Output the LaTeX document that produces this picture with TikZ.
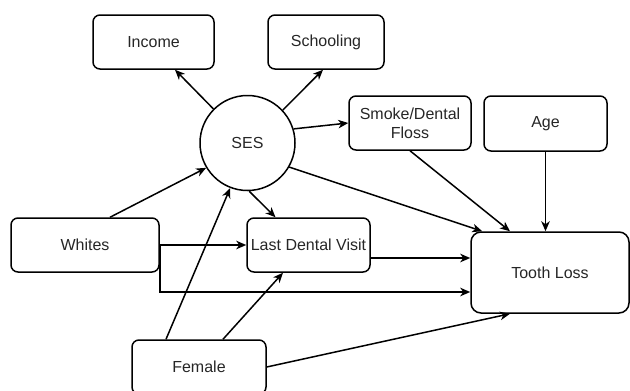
\documentclass[tikz,border=0pt]{standalone}
\usepackage{fontspec}
\setmainfont{Liberation Sans}
\usetikzlibrary{arrows.meta,calc}
\begin{document}
\begin{tikzpicture}[x=1pt,y=-1pt,
  every node/.style={font=\fontsize{16}{19}\selectfont, text=black!85},
  rbox/.style={draw, line width=1.5pt, rounded corners=7pt, align=center, inner sep=0pt},
  arr/.style={-{Stealth[length=10pt,width=8.5pt,inset=3pt]}, line width=1.5pt}]
\useasboundingbox (0,0) rectangle (630,391);
\node[rbox, minimum width=121pt, minimum height=54pt] (Income) at (153.5,42) {Income};
\node[rbox, minimum width=116pt, minimum height=54pt] (School) at (326,42) {Schooling};
\node[draw, circle, line width=1.5pt, minimum size=95pt, inner sep=0pt] (SES) at (247.5,143) {SES};
\node[rbox, minimum width=122pt, minimum height=54pt] (Smoke) at (410,123) {Smoke/Dental\\Floss};
\node[rbox, minimum width=123pt, minimum height=55pt] (Age) at (545.5,123.5) {Age};
\node[rbox, minimum width=148pt, minimum height=54pt] (Whites) at (85,245) {Whites};
\node[rbox, minimum width=123pt, minimum height=54pt] (LDV) at (308.5,245) {Last Dental Visit};
\node[rbox, rounded corners=10pt, minimum width=158pt, minimum height=81pt] (TL) at (550,272.5) {Tooth Loss};
\node[rbox, minimum width=134pt, minimum height=54pt] (Female) at (199,367) {Female};

\draw[arr] (SES.135) -- ([xshift=21.5pt]Income.south);
\draw[arr] (SES.43) -- ([xshift=-3pt]School.south);
\draw[arr] (SES.17) -- (Smoke.west);
\draw[arr] (SES.-30) -- ([xshift=12pt]TL.north west);
\draw[arr] (Smoke.south) -- ([xshift=-40pt]TL.north);
\draw[arr] (Age.south) -- (Age.south |- TL.north);
\draw[arr] ([xshift=25pt]Whites.north) -- (SES.211);
\draw[arr] ([xshift=-33pt]Female.north) -- (SES.249);
\draw[arr] (SES.-88) -- ([xshift=-33pt]LDV.north);
\draw[arr] (Whites.east) -- (LDV.west);
\coordinate (ldvout) at ($(LDV.east)+(0,13)$);
\draw[arr] (ldvout) -- (ldvout -| TL.west);
\draw[arr] (Whites.east) |- ($(TL.west)+(0,19.5)$);
\draw[arr] ([xshift=24pt]Female.north) -- ([xshift=-25.5pt]LDV.south);
\draw[arr] (Female.east) -- ([xshift=-40pt]TL.south);
\end{tikzpicture}
\end{document}
